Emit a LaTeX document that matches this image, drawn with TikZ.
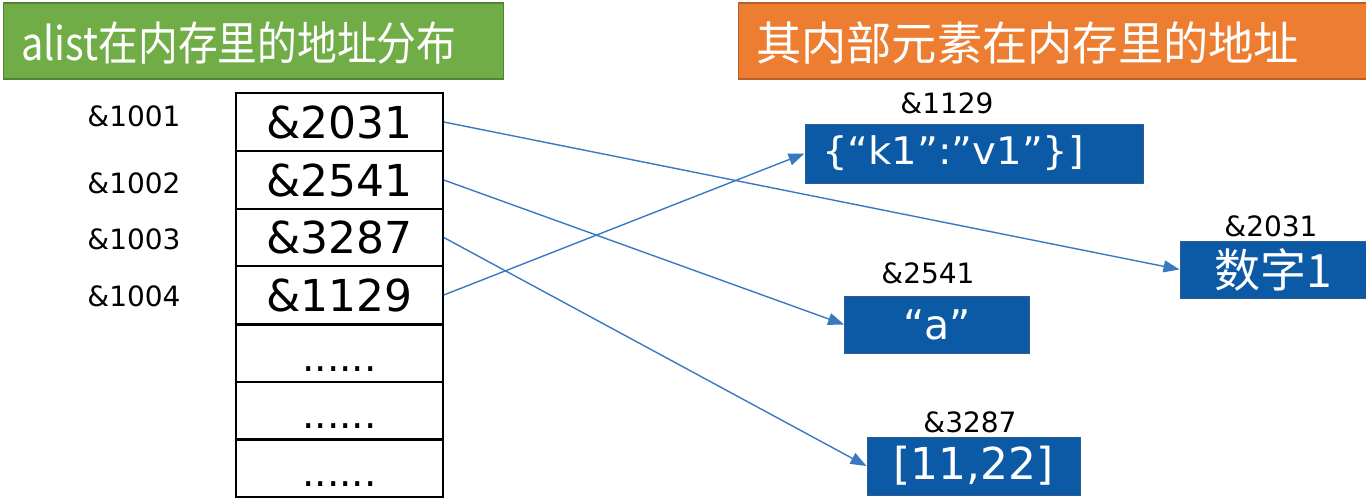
\documentclass[tikz,border=0pt]{standalone}
\usepackage{fontspec}
\setmainfont{DejaVu Sans}
\newfontfamily\cjk{Noto Sans CJK SC}
\usetikzlibrary{arrows.meta}
\definecolor{hgreen}{HTML}{70AD47}
\definecolor{hgreenb}{HTML}{548235}
\definecolor{horange}{HTML}{ED7D31}
\definecolor{horangeb}{HTML}{B8602A}
\definecolor{vblue}{HTML}{0C5AA6}
\definecolor{vblueb}{HTML}{2E5D94}
\definecolor{arrowc}{HTML}{3A78C2}
\tikzset{
  header/.style={draw=#1b, line width=1.2pt, fill=#1, text=white, anchor=west, inner sep=0pt},
  cell/.style={draw=black, line width=1.6pt, minimum width=207pt, minimum height=57.7pt, inner sep=0pt, font=\fontsize{44}{50}\selectfont},
  addr/.style={font=\fontsize{28}{30}\selectfont},
  valbox/.style={draw=vblueb, line width=1pt, fill=vblue, text=white, inner sep=0pt},
  link/.style={draw=arrowc, line width=1.4pt, -{Triangle[length=16pt,width=12pt]}},
  dots/.style={anchor=base, font=\fontsize{39}{40}\selectfont}
}
\begin{document}
\begin{tikzpicture}[x=1pt,y=-1pt]
\useasboundingbox (0,0) rectangle (1366,499);
% headers
\node[header=hgreen, minimum width=500pt, minimum height=76pt] (h1) at (3,41) {};
\node[anchor=west, text=white, inner sep=0pt, font=\cjk\fontsize{46}{50}\selectfont] (h1t) at (21,43) {\resizebox{435pt}{\height}{alist在内存里的地址分布}};
\node[header=horange, minimum width=630pt, minimum height=76pt] (h2) at (738,41) {};
\node[anchor=west, text=white, inner sep=0pt, font=\cjk\fontsize{46}{50}\selectfont] (h2t) at (756,43) {\resizebox{543pt}{\height}{其内部元素在内存里的地址}};
% memory cells
\node[cell] (c1) at (339.5,122) {\&2031};
\node[cell] (c2) at (339.5,180) {\&2541};
\node[cell] (c3) at (339.5,237.5) {\&3287};
\node[cell] (c4) at (339.5,295) {\&1129};
\node[cell] (c5) at (339.5,353) {};
\node[cell] (c6) at (339.5,410.5) {};
\node[cell] (c7) at (339.5,468) {};
\node[dots] (d5) at (339.5,371) {......};
\node[dots] (d6) at (339.5,428.5) {......};
\node[dots] (d7) at (339.5,486) {......};
\draw[line width=2.6pt] (c4.south west) -- (c4.south east);
\draw[line width=2.6pt] (c6.south west) -- (c6.south east);
% left addresses
\node[addr] (a1) at (134,116) {\&1001};
\node[addr] (a2) at (134,183) {\&1002};
\node[addr] (a3) at (134,239) {\&1003};
\node[addr] (a4) at (134,296) {\&1004};
% value boxes
\node[valbox, minimum width=338pt, minimum height=59pt] (vk) at (974,153.5) {};
\node[anchor=west, text=white, inner sep=0pt, font=\fontsize{38}{40}\selectfont] (vkt) at (822,153) {\resizebox{262pt}{\height}{\{“k1”:”v1”\}]}};
\node[valbox, minimum width=186pt, minimum height=57pt, font=\cjk\fontsize{46}{48}\selectfont] (vn) at (1273,269.5) {数字1};
\node[valbox, minimum width=185pt, minimum height=57pt, font=\fontsize{41}{44}\selectfont] (va) at (937,324.5) {“a”};
\node[valbox, minimum width=213pt, minimum height=58pt, font=\fontsize{44}{48}\selectfont] (vl) at (973.5,466) {[11,22]};
% labels above boxes
\node[addr] (l1) at (947,103) {\&1129};
\node[addr] (l2) at (1271,226) {\&2031};
\node[addr] (l3) at (928,273) {\&2541};
\node[addr] (l4) at (970,422) {\&3287};
% connectors
\draw[link] (c1.east) -- (vn.west);
\draw[link] (c2.east) -- (va.west);
\draw[link] (c3.east) -- (vl.west);
\draw[link] (c4.east) -- (vk.west);
\end{tikzpicture}
\end{document}
